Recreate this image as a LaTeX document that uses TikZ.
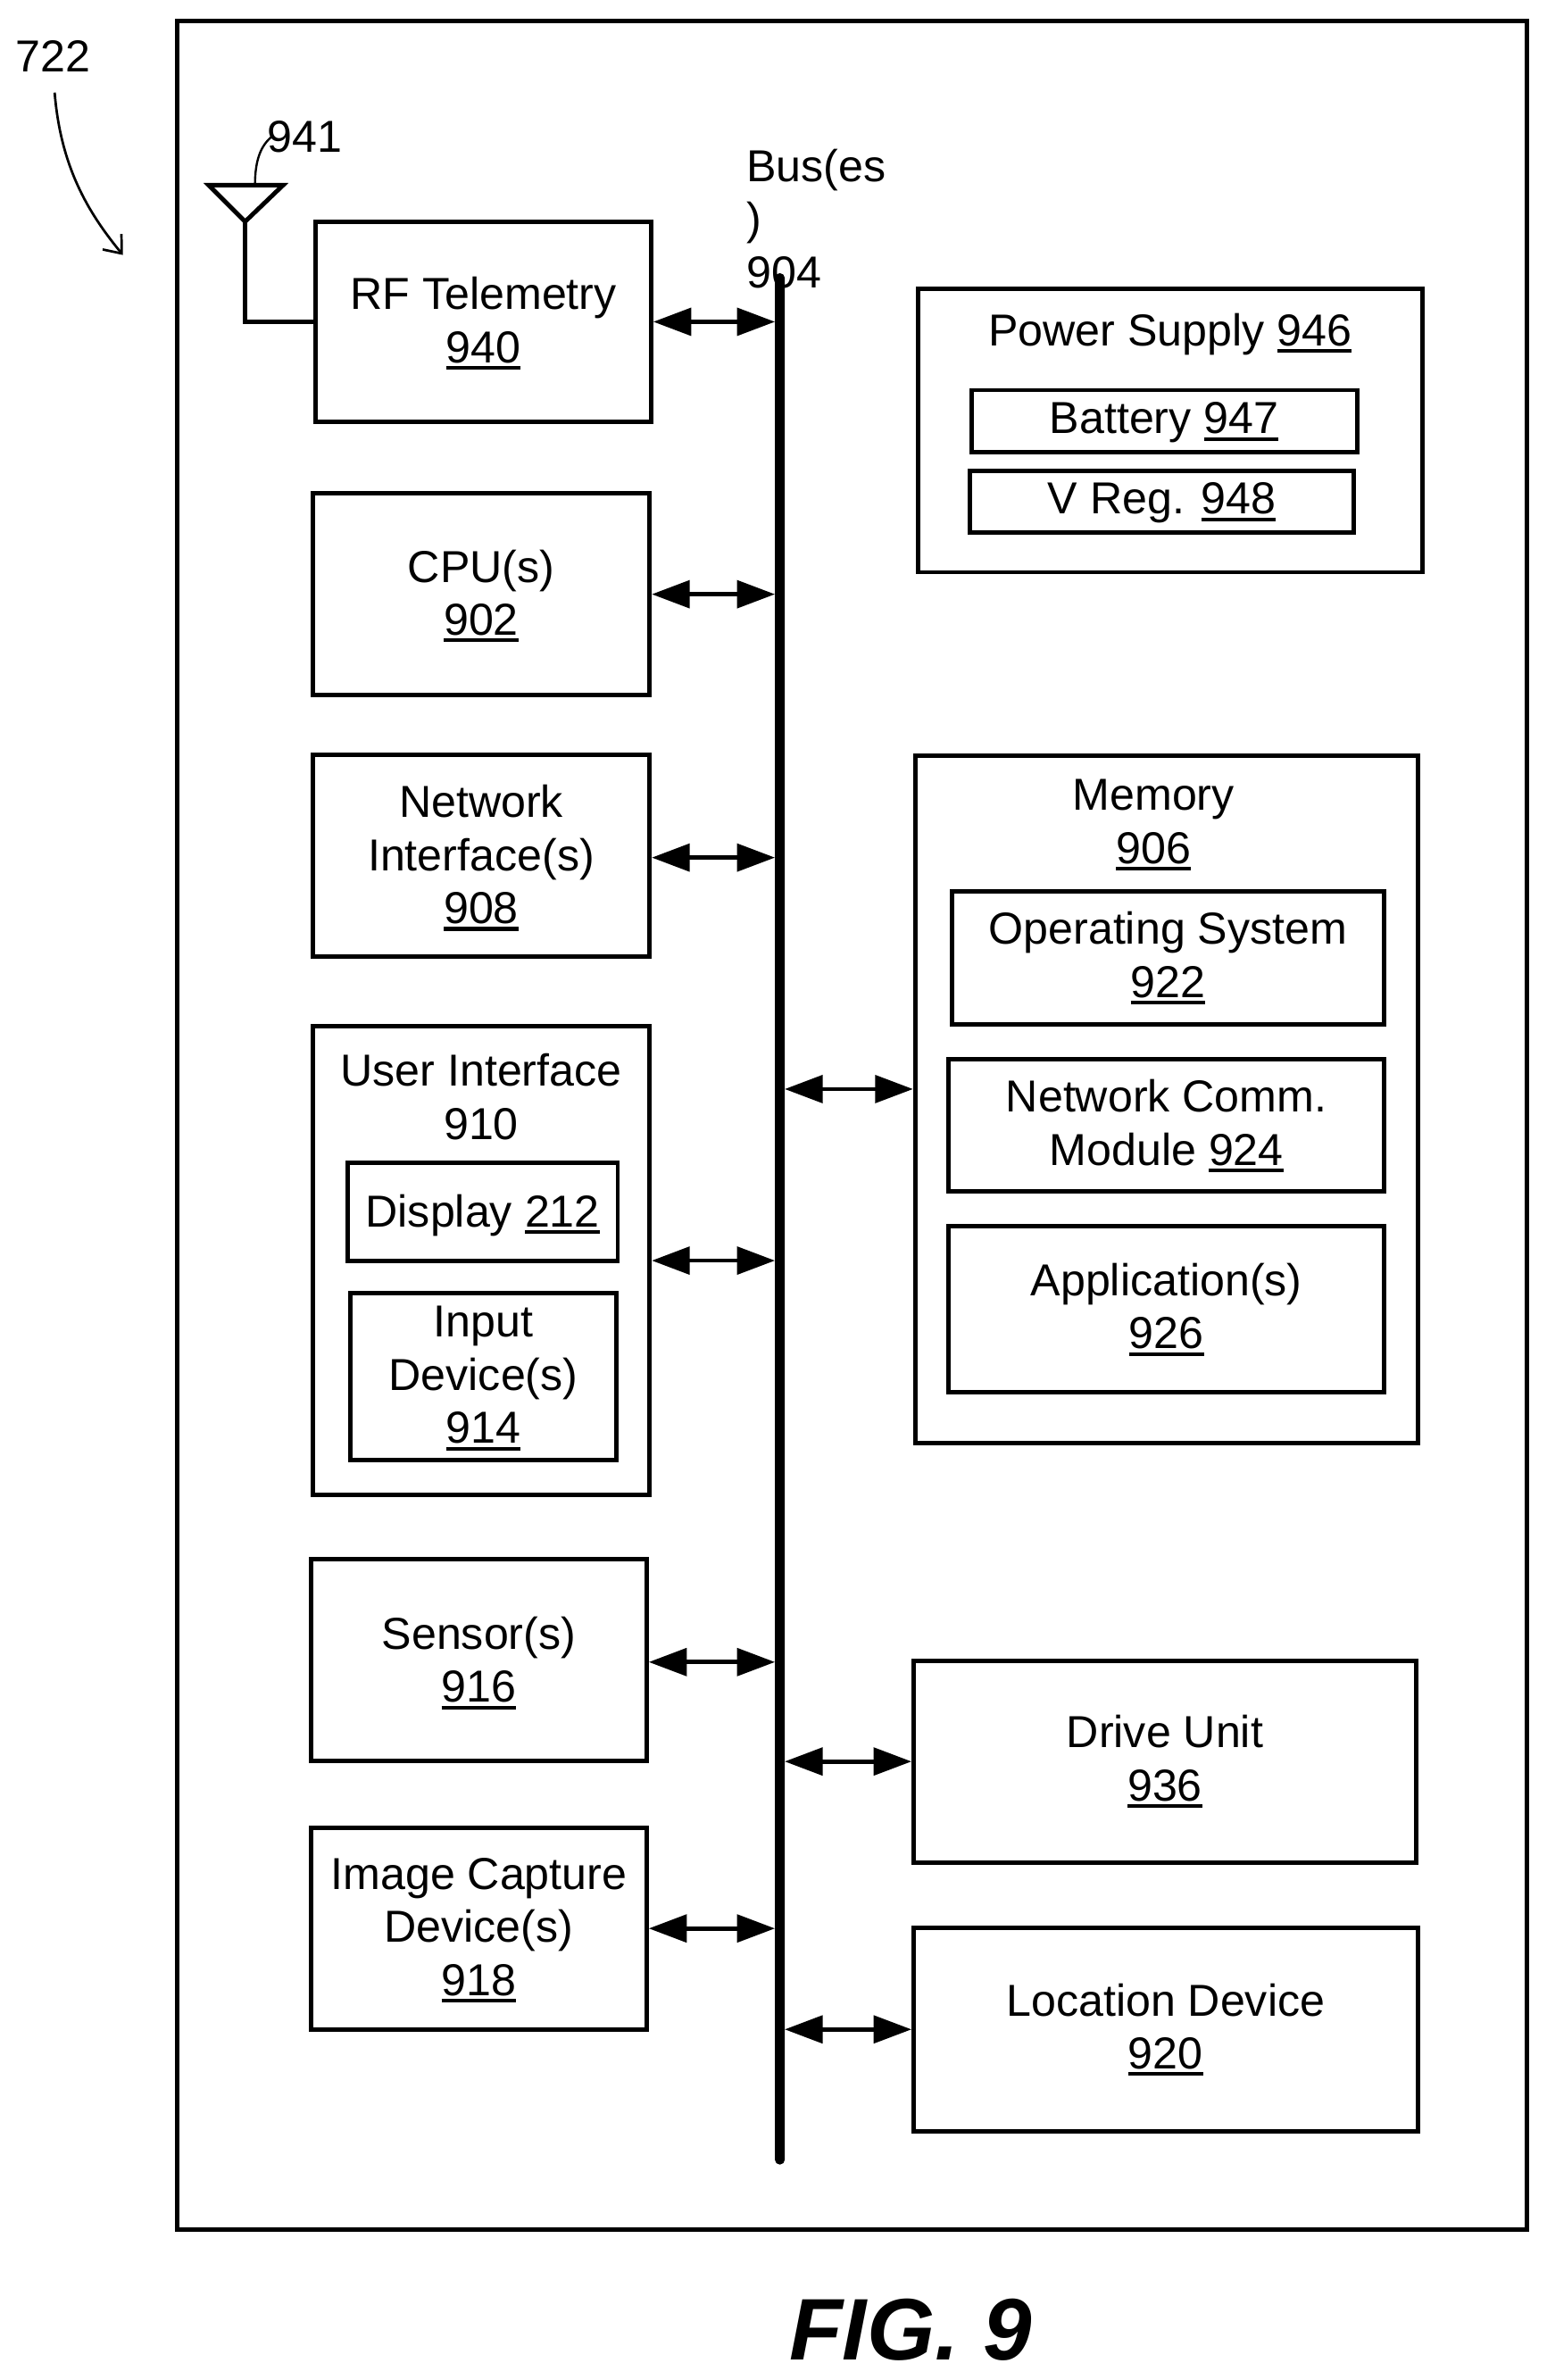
\documentclass[tikz,border=0pt]{standalone}
\usepackage{fontspec}
\setmainfont{Liberation Sans}
\usetikzlibrary{arrows.meta}
\newcommand\ulnum[1]{\setbox0\hbox{#1}\leavevmode\rlap{\smash{\rule[-2.3pt]{\wd0}{1.2pt}}}\box0}
% \bxn[vertical text shift]{name}{x0}{y0}{x1}{y1}{text}
\newcommand\bxn[7][-1]{%
  \pgfmathsetmacro\bw{(#5-#3)*0.5}%
  \pgfmathsetmacro\bh{(#6-#4)*0.5}%
  \pgfmathsetmacro\bcx{(#5+#3)/2}%
  \pgfmathsetmacro\bcy{(#6+#4)/2}%
  \pgfmathsetmacro\tcy{\bcy+#1}%
  \node[boxn,minimum width=\bw pt,minimum height=\bh pt] (#2) at (\bcx,\bcy) {};
  \node[lbl] (#2text) at (\bcx,\tcy) {#7};
}
\tikzset{
  lbl/.style={font=\fontsize{14.75}{17.5}\selectfont,align=center,inner sep=0pt,outer sep=0pt},
  boxn/.style={draw=black,line width=1.45pt,line join=miter,rectangle,inner sep=0pt,outer sep=0.72pt},
  busbar/.style={fill=black,draw=none,rectangle,rounded corners=1.5pt,inner sep=0pt,outer sep=0pt},
  dbl/.style={line width=1.4pt,{Triangle[length=12.5pt,width=9pt]}-{Triangle[length=12.5pt,width=9pt]}},
  wire/.style={line width=1.45pt,line join=miter},
  thinlead/.style={line width=0.7pt}
}
\begin{document}
\begin{tikzpicture}[x=0.5pt,y=-0.5pt]
\useasboundingbox[fill=white] (0,0) rectangle (1018.7,1568);
\bxn{outer}{117}{14}{1006}{1469}{}
% texts beside the bus and references
\node[lbl,anchor=center] (ref722) at (35,37) {722};
\node[lbl,anchor=center] (ref941) at (201,90) {941};
\node[lbl,anchor=west,align=left] (buslabel) at (492,144) {Bus(es\\)\\904};
% bus
\node[busbar,minimum width=3.2pt,minimum height=623pt] (bus) at (513.8,803) {};
% left column
\bxn{rf}{208}{146}{429}{278}{RF Telemetry\\\ulnum{940}}
\bxn{cpu}{206}{325}{428}{458}{CPU(s)\\\ulnum{902}}
\bxn[-0.5]{net}{206}{497}{428}{630}{Network\\Interface(s)\\\ulnum{908}}
\bxn{ui}{206}{676}{428}{985}{}
\node[lbl] (uititle) at (317,722.5) {User Interface\\910};
\bxn[2]{disp}{229}{766}{407}{831}{Display \ulnum{212}}
\bxn{input}{231}{852}{406}{962}{Input\\Device(s)\\\ulnum{914}}
\bxn[0]{sensor}{205}{1027}{426}{1160}{Sensor(s)\\\ulnum{916}}
\bxn{image}{205}{1204}{426}{1337}{Image Capture\\Device(s)\\\ulnum{918}}
% right column
\bxn{power}{605}{190}{937}{377}{}
\node[lbl] (powertitle) at (771,220) {Power Supply \ulnum{946}};
\bxn[1]{batt}{640}{257}{894}{298}{Battery \ulnum{947}}
\bxn[1]{vreg}{639}{310}{892}{351}{V Reg. \ulnum{948}}
\bxn{mem}{603}{498}{934}{951}{}
\node[lbl] (memtitle) at (760,541.5) {Memory\\\ulnum{906}};
\bxn[-2]{os}{627}{587}{912}{675}{Operating System\\\ulnum{922}}
\bxn[-2]{comm}{625}{698}{912}{785}{Network Comm.\\Module \ulnum{924}}
\bxn[-2]{app}{625}{808}{912}{917}{Application(s)\\\ulnum{926}}
\bxn[-2]{drive}{602}{1094}{933}{1227}{Drive Unit\\\ulnum{936}}
\bxn[-2]{loc}{602}{1270}{934}{1404}{Location Device\\\ulnum{920}}
% connectors
\draw[dbl] (rf.east) -- (rf.east -| bus.west);
\draw[dbl] (cpu.east) -- (cpu.east -| bus.west);
\draw[dbl] ([yshift=-0.75pt]net.east) -- ([yshift=-0.75pt]net.east -| bus.west);
\draw[dbl] (ui.east) -- (ui.east -| bus.west);
\draw[dbl] ([yshift=-0.75pt]sensor.east) -- ([yshift=-0.75pt]sensor.east -| bus.west);
\draw[dbl] (image.east) -- (image.east -| bus.west);
\draw[dbl] ([yshift=3.5pt]mem.west -| bus.east) -- ([yshift=3.5pt]mem.west);
\draw[dbl] (drive.west -| bus.east) -- (drive.west);
\draw[dbl] (loc.west -| bus.east) -- (loc.west);
% antenna
\coordinate (antL) at (137.5,122);
\coordinate (antR) at (186.5,122);
\coordinate (antA) at (161.5,146);
\coordinate (antT) at (168,122);
\draw[wire] (antL) -- (antR) -- (antA) -- cycle;
\draw[wire] (rf.west) -| (antA);
\coordinate (lead941) at (179,90);
\draw[thinlead] (antT) .. controls (168,105) and (172,96) .. (lead941);
% reference arrow
\coordinate (arrS) at (36,61);
\coordinate (arrE) at (81,168);
\draw[line width=0.8pt,-{Straight Barb[length=5pt,width=8pt]}] (arrS) .. controls (40,110) and (58,140) .. (arrE);
% figure label
\node[inner sep=0pt,font=\fontsize{28.8}{32}\selectfont\bfseries\itshape] (fig) at (600,1535) {FIG. 9};
\end{tikzpicture}
\end{document}
